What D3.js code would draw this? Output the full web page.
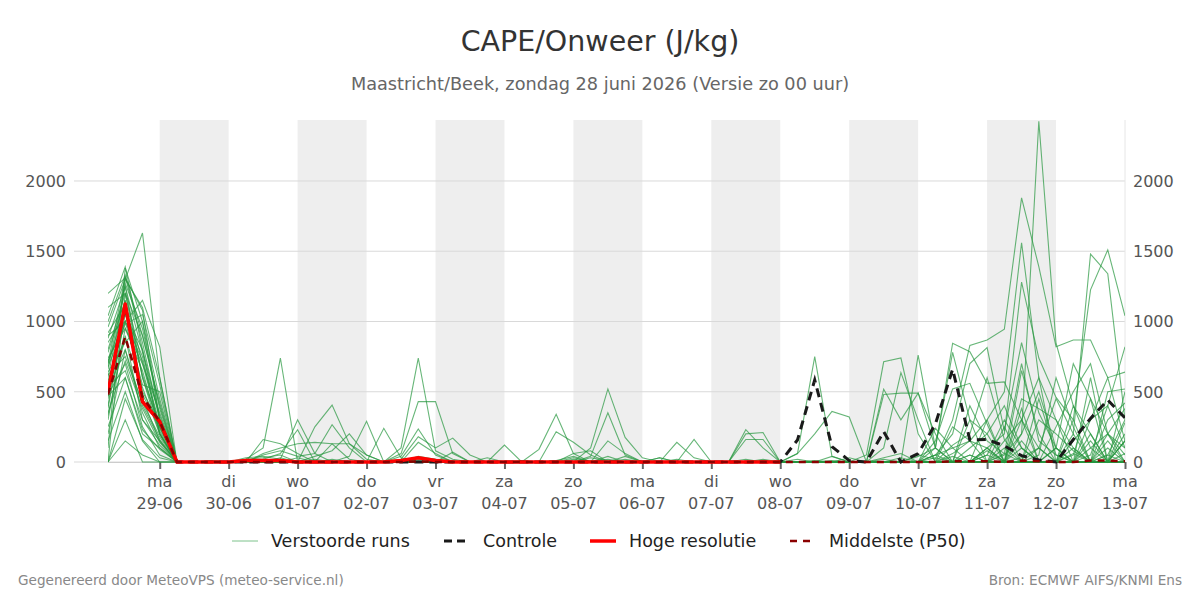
<!DOCTYPE html>
<html>
<head>
<meta charset="utf-8">
<script src="https://cdn.jsdelivr.net/npm/d3@7"></script>
<style>
body{margin:0;background:#fff;}
text{font-family:"DejaVu Sans",sans-serif;}
</style>
</head>
<body>
<svg id="chart" width="1200" height="600"></svg>
<script>
// 6-hourly values, first step 28-06 06:00
var startTime = new Date(2026, 5, 28, 6);
var stepHours = 6;
var dayNames = ["zo","ma","di","wo","do","vr","za"];
var yTicks = [0, 500, 1000, 1500, 2000];
var yMax = 2434;

// hoge resolutie (runs to 08-07 00:00)
var hires = [500,1125,430,287,0, 0,0,0,10,10, 10,0,0,0,0, 0,0,10,30,10, 0,0,0,0,0, 0,0,0,0,0, 0,0,0,0,0, 0,0,0,0,0];
// controle
var control = [500,1120,430,287,0, 0,0,0,0,0, 0,0,0,0,0, 0,0,0,0,0, 0,0,0,0,0, 0,0,0,0,0, 0,0,0,0,0, 0,0,0,0,0,
  157,584,110,10,0, 216,0,60,270,660, 157,160,115,45,15, 0,160,310,441,313];
// middelste (P50)
var median = [480,892,465,290,0, 0,0,0,0,0, 0,0,0,0,0, 0,0,0,5,0, 0,0,0,0,0, 0,0,0,0,0, 0,0,0,0,0, 0,0,0,0,0,
  0,0,0,0,0, 0,0,0,0,5, 5,5,0,10,5, 0,0,10,10,5];
// verstoorde runs
var runs = [
 [1200,1310,1080,300,0, 0,0,0,20,100, 740,0,20,0,0, 0,0,10,30,20, 0,0,0,0,0, 0,10,40,0,0, 0,0,0,20,0, 0,0,0,10,0, 20,0,10,0,0, 30,60,0,100,845, 785,560,570,300,100, 450,200,1480,1340,300],
 [1040,1390,800,200,0, 0,10,0,30,40, 20,300,60,0,0, 0,0,0,40,20, 10,0,0,0,0, 0,0,0,30,10, 0,0,0,0,0, 0,0,0,0,0, 0,10,0,0,0, 0,0,50,20,300, 830,868,945,1880,1390, 820,868,868,600,640],
 [960,1300,1630,600,0, 0,0,0,10,20, 60,230,0,0,0, 0,0,0,0,0, 0,0,0,0,10, 0,0,30,0,20, 0,0,0,0,0, 0,0,20,0,0, 0,0,0,0,0, 0,30,0,0,0, 0,0,50,200,2425, 845,400,100,0,150],
 [900,1000,1150,820,0, 0,0,0,20,30, 50,0,250,405,130, 20,0,0,0,0, 0,0,0,0,0, 0,0,0,0,40, 0,0,0,0,0, 0,0,0,0,0, 0,0,0,30,0, 0,0,0,50,100, 150,300,500,1560,600, 300,100,0,500,520],
 [800,1200,900,400,0, 0,0,0,0,50, 80,40,60,265,100, 0,0,0,20,10, 0,0,0,0,0, 0,0,0,10,0, 0,0,30,0,0, 0,0,0,0,0, 0,0,0,0,0, 0,0,0,0,0, 0,100,200,1280,740, 460,300,1225,1510,1040],
 [740,950,700,250,0, 0,0,0,0,10, 20,0,40,80,200, 50,0,0,10,0, 0,0,0,0,0, 0,0,20,0,0, 0,0,0,0,0, 0,0,0,0,0, 0,0,40,0,0, 0,0,0,50,200, 700,814,220,850,350, 100,700,450,200,380],
 [700,1100,450,150,0, 0,0,0,10,0, 30,0,0,0,40, 290,0,0,0,0, 0,0,0,0,0, 0,0,0,0,0, 0,0,0,0,0, 0,0,0,20,0, 0,0,0,0,0, 0,0,0,150,520, 560,270,0,650,200, 0,150,300,400,820],
 [640,850,1000,300,0, 0,0,0,0,0, 0,30,0,20,0, 0,240,30,0,0, 0,0,0,0,0, 0,0,0,0,0, 20,0,0,0,0, 0,0,0,0,0, 0,0,0,0,0, 0,0,40,100,780, 300,0,150,300,600, 0,0,200,0,280],
 [600,1250,600,200,0, 0,0,0,0,20, 0,0,0,0,0, 0,0,100,740,80, 20,0,0,0,0, 0,0,0,0,0, 0,0,0,0,0, 0,0,0,0,0, 0,0,0,0,0, 0,0,0,0,120, 200,600,160,0,300, 200,80,0,300,420],
 [520,800,350,100,0, 0,0,0,0,0, 0,0,0,0,0, 0,0,60,430,430, 60,0,0,0,0, 0,0,0,0,0, 0,0,0,0,0, 0,0,0,0,0, 0,0,0,0,0, 0,0,0,0,0, 100,200,400,100,0, 250,500,700,200,100],
 [480,700,250,50,0, 0,0,0,0,0, 0,0,0,0,0, 0,0,40,235,50, 0,0,0,0,0, 0,0,0,0,0, 0,0,0,0,0, 0,0,0,0,0, 0,0,0,0,0, 0,0,0,0,0, 0,0,0,450,380, 300,0,150,0,150],
 [400,1150,500,280,0, 0,0,0,0,0, 0,0,0,0,0, 0,0,20,180,100, 170,50,0,0,0, 0,0,0,0,0, 0,0,0,0,0, 0,0,0,0,0, 0,0,0,0,0, 0,0,0,0,60, 150,100,0,200,500, 100,0,300,600,150],
 [330,900,300,150,0, 0,0,0,0,0, 0,0,0,0,0, 0,0,0,140,60, 0,0,0,0,0, 0,0,0,0,0, 0,0,0,0,0, 0,0,0,0,0, 0,0,0,0,0, 0,0,0,0,0, 0,0,100,0,50, 600,250,0,100,0],
 [250,600,200,100,0, 0,0,0,0,0, 0,0,0,0,0, 0,0,0,0,0, 0,0,0,120,0, 0,0,0,0,0, 0,0,0,0,0, 0,0,0,0,0, 0,0,0,0,0, 0,0,0,0,0, 400,150,60,700,150, 50,0,100,200,50],
 [150,500,150,0,0, 0,0,0,0,0, 0,0,0,0,0, 0,0,0,0,0, 0,0,0,0,0, 90,340,60,0,0, 0,0,0,0,0, 0,0,0,0,0, 0,0,0,0,0, 0,0,0,240,100, 0,50,300,100,0, 0,400,200,0,0],
 [0,300,0,0,0, 0,0,0,0,0, 0,0,0,0,0, 0,0,0,0,0, 0,0,0,0,0, 0,215,140,50,0, 0,0,0,0,0, 0,0,0,0,0, 0,0,0,0,0, 0,0,0,30,0, 0,80,0,30,100, 0,60,0,0,150],
 [0,150,50,0,0, 0,0,0,0,0, 0,0,0,0,0, 0,0,0,0,0, 0,0,0,0,0, 0,0,0,100,520, 175,30,0,0,0, 0,0,0,0,0, 0,0,0,0,0, 0,0,0,0,40, 0,0,0,0,0, 100,0,0,50,0],
 [0,1200,700,350,0, 0,0,0,0,0, 0,0,0,0,0, 0,0,0,0,0, 0,0,0,0,0, 0,0,0,40,350, 50,0,0,0,0, 0,0,0,0,0, 0,0,0,0,0, 20,0,0,0,0, 0,0,0,0,0, 0,0,0,0,0],
 [100,1380,1000,450,0, 0,0,0,0,0, 0,0,0,0,0, 0,0,0,0,0, 0,0,0,0,0, 0,0,0,0,150, 60,0,0,0,0, 0,0,0,0,0, 0,0,0,0,0, 0,0,0,0,0, 50,0,0,0,0, 0,0,0,0,60],
 [700,1320,850,300,0, 0,0,0,0,0, 0,0,0,0,0, 0,0,0,0,0, 0,0,0,0,0, 0,0,0,0,0, 0,0,0,140,30, 0,0,0,0,0, 0,0,0,0,0, 0,0,0,0,0, 0,100,0,150,0, 0,50,450,0,200],
 [850,1050,750,200,0, 0,0,0,0,0, 0,0,0,0,0, 0,0,0,0,0, 0,0,0,0,0, 0,0,0,0,0, 0,0,0,0,160, 0,0,0,0,0, 0,0,0,0,0, 0,0,0,0,250, 150,0,0,0,100, 0,200,0,50,300],
 [1100,1200,600,250,0, 0,0,0,0,0, 0,0,0,0,0, 0,0,0,0,0, 0,0,0,0,0, 0,0,0,0,0, 0,0,0,0,0, 0,0,230,100,0, 0,0,0,0,0, 0,0,0,0,0, 50,0,0,380,0, 100,0,0,0,0],
 [560,1000,550,500,0, 0,0,0,0,0, 0,0,0,0,0, 0,0,0,0,0, 0,0,0,0,0, 0,0,0,0,0, 0,0,0,0,0, 0,0,200,210,0, 0,0,0,0,0, 0,0,0,0,0, 0,0,0,0,0, 0,0,50,400,100],
 [620,750,420,180,0, 0,0,0,0,0, 0,0,0,0,0, 0,0,0,0,0, 0,0,0,0,0, 0,0,0,0,0, 0,0,0,0,0, 0,0,160,160,0, 0,0,0,0,0, 0,0,0,50,0, 0,0,250,0,0, 0,0,0,0,0],
 [450,1300,1100,600,0, 0,0,0,0,160, 130,60,0,0,0, 0,0,0,0,0, 0,0,0,0,0, 0,0,0,0,0, 0,0,0,0,0, 0,0,0,0,0, 0,0,0,0,0, 0,0,0,0,0, 0,300,0,0,0, 0,100,0,0,500],
 [380,1050,800,330,0, 0,0,0,0,60, 100,130,140,130,20, 0,0,0,0,0, 0,0,0,0,0, 0,0,0,0,0, 0,0,0,0,0, 0,0,0,0,0, 0,0,0,0,0, 0,0,0,0,0, 0,0,0,0,0, 0,0,0,200,0],
 [300,950,650,220,0, 0,0,0,0,0, 0,0,0,130,130, 50,0,0,0,0, 0,0,0,0,0, 0,0,0,0,0, 0,0,0,0,0, 0,0,0,0,0, 0,0,0,0,0, 0,0,0,0,0, 0,0,0,0,450, 50,0,0,0,0],
 [780,1150,480,240,0, 0,0,0,0,0, 0,0,0,0,0, 0,0,0,0,0, 70,0,30,0,0, 0,0,0,0,0, 0,0,0,0,0, 0,0,0,0,0, 0,0,0,0,0, 0,0,0,0,0, 0,50,0,0,0, 0,0,600,0,0],
 [200,800,400,160,0, 0,0,0,0,0, 0,0,0,0,0, 0,0,0,0,0, 0,0,0,0,0, 0,0,60,80,0, 0,0,0,0,0, 0,0,0,0,0, 0,0,0,0,0, 0,0,0,0,0, 0,0,0,0,0, 0,0,0,0,0],
 [660,1270,950,380,0, 0,0,0,0,0, 0,0,0,0,0, 0,0,0,0,0, 0,0,0,0,0, 0,0,0,0,0, 40,0,30,0,0, 0,0,0,0,0, 0,0,0,0,0, 0,0,0,0,0, 0,0,60,0,0, 0,0,0,150,0],
 [920,1120,620,260,0, 0,0,0,0,0, 0,0,0,0,0, 0,0,0,0,0, 0,0,0,0,0, 0,0,0,0,0, 0,0,0,0,0, 0,0,0,0,0, 60,750,40,0,0, 0,0,0,0,0, 0,0,0,0,0, 0,0,0,0,0],
 [540,650,300,120,0, 0,0,0,0,0, 0,0,0,0,0, 0,0,0,0,0, 0,0,0,0,0, 0,0,0,0,0, 0,0,0,0,0, 0,0,0,0,0, 60,200,360,320,0, 0,0,0,0,0, 0,0,0,0,0, 0,0,0,0,0],
 [0,450,160,30,0, 0,0,0,0,0, 0,0,0,0,0, 0,0,0,0,0, 0,0,0,0,0, 0,0,0,0,0, 0,0,0,0,0, 0,0,0,0,0, 0,0,0,0,50, 713,740,200,0,0, 0,0,0,300,0, 0,0,0,0,0],
 [720,1000,720,270,0, 0,0,0,0,0, 0,0,0,0,0, 0,0,0,0,0, 0,0,0,0,0, 0,0,0,0,0, 0,0,0,0,0, 0,0,0,0,0, 0,0,0,0,0, 518,300,490,100,0, 0,0,0,0,0, 0,300,0,0,0],
 [580,880,530,200,0, 0,0,0,0,0, 0,0,0,0,0, 0,0,0,0,0, 0,0,0,0,0, 0,0,0,0,0, 0,0,0,0,0, 0,0,0,0,0, 0,0,0,0,0, 100,636,300,0,0, 0,0,0,0,0, 0,0,0,0,0],
 [1000,1330,900,420,0, 0,0,0,0,0, 0,0,0,0,0, 0,0,0,0,0, 0,0,0,0,0, 0,0,0,0,0, 0,0,0,0,0, 0,0,0,0,0, 0,0,0,0,0, 480,490,490,200,0, 0,0,0,0,0, 0,0,0,0,0],
 [470,600,230,90,0, 0,0,0,0,0, 0,0,0,0,0, 0,0,0,0,0, 0,0,0,0,0, 0,0,0,0,0, 0,0,0,0,0, 0,0,0,0,0, 0,0,0,0,0, 0,0,761,100,0, 0,0,0,0,0, 0,0,0,0,0],
 [880,1250,780,310,0, 0,0,0,0,0, 0,0,0,0,0, 0,0,0,0,0, 0,0,0,0,0, 0,0,0,0,0, 0,0,0,0,0, 0,0,0,0,0, 0,0,0,0,0, 0,0,0,0,0, 300,200,0,100,0, 0,0,0,0,0],
 [350,720,380,140,0, 0,0,0,0,0, 0,0,0,0,0, 0,0,0,0,0, 0,0,0,0,0, 0,0,0,0,0, 0,0,0,0,0, 0,0,0,0,0, 0,0,0,0,0, 0,0,0,0,0, 0,0,0,0,0, 0,0,0,0,0],
 [680,980,1050,550,0, 0,0,0,0,0, 0,0,0,0,0, 0,0,0,0,0, 0,0,0,0,0, 0,0,0,0,0, 0,0,0,0,0, 0,0,0,0,0, 0,0,0,0,0, 0,0,0,0,0, 0,0,0,0,0, 0,0,0,0,0]
];

var svg = d3.select("#chart");
var plotLeft = 108, plotRight = 1125, plotTop = 120, plotBottom = 462;

var timeAt = function(i){
    return new Date(startTime.getTime() + i * stepHours * 3600 * 1000);
}
var endTime = timeAt(runs[0].length - 1);

var x = d3.scaleTime().domain([startTime, endTime]).range([plotLeft, plotRight]);
var y = d3.scaleLinear().domain([0, yMax]).range([plotBottom, plotTop]);

var days = d3.timeDay.range(new Date(2026, 5, 29), new Date(2026, 6, 13, 1));

//grey bands, every other day
var bands = days.filter(function(d, i){return i % 2 == 0 && i < days.length - 1});
svg.append("g").selectAll("rect").data(bands).enter().append("rect")
    .attr("x", function(d){return x(d)})
    .attr("y", plotTop)
    .attr("width", function(d){return x(d3.timeDay.offset(d, 1)) - x(d)})
    .attr("height", plotBottom - plotTop)
    .attr("fill", "#eeeeee");

//grid lines
svg.append("g").selectAll("line").data(yTicks).enter().append("line")
    .attr("x1", 74).attr("x2", plotRight)
    .attr("y1", function(d){return y(d)}).attr("y2", function(d){return y(d)})
    .attr("stroke", "#d9d9d9").attr("stroke-width", 1);
svg.append("line")
    .attr("x1", plotRight).attr("x2", plotRight).attr("y1", plotTop).attr("y2", plotBottom)
    .attr("stroke", "#e6e6e6");

//y labels both sides
svg.append("g").selectAll("text").data(yTicks).enter().append("text")
    .attr("x", 66).attr("y", function(d){return y(d) + 6})
    .attr("text-anchor", "end").attr("font-size", 16).attr("fill", "#555")
    .text(function(d){return d});
svg.append("g").selectAll("text").data(yTicks).enter().append("text")
    .attr("x", 1133).attr("y", function(d){return y(d) + 6})
    .attr("text-anchor", "start").attr("font-size", 16).attr("fill", "#555")
    .text(function(d){return d});

//x axis
var xAxis = svg.append("g").attr("transform", "translate(0," + plotBottom + ")")
    .call(d3.axisBottom(x).tickValues(days).tickSize(7).tickSizeOuter(0).tickFormat(""));
xAxis.select(".domain").attr("stroke", "#cccccc");
xAxis.selectAll(".tick line").attr("stroke", "#666").attr("stroke-width", 2);
var dayLabels = svg.append("g").selectAll("text").data(days).enter().append("text")
    .attr("text-anchor", "middle").attr("font-size", 16).attr("fill", "#555");
dayLabels.append("tspan")
    .attr("x", function(d){return x(d)}).attr("y", 487)
    .text(function(d){return dayNames[d.getDay()]});
dayLabels.append("tspan")
    .attr("x", function(d){return x(d)}).attr("y", 509)
    .text(function(d){return d3.timeFormat("%d-%m")(d)});

//lines
svg.append("clipPath").attr("id", "plotClip").append("rect")
    .attr("x", plotLeft).attr("y", plotTop - 2)
    .attr("width", plotRight - plotLeft).attr("height", plotBottom - plotTop + 4);
var plot = svg.append("g").attr("clip-path", "url(#plotClip)");

var line = d3.line()
    .x(function(d, i){return x(timeAt(i))})
    .y(function(d){return y(d)});

plot.selectAll(".run").data(runs).enter().append("path")
    .attr("class", "run")
    .attr("d", line)
    .attr("fill", "none")
    .attr("stroke", "#26973f")
    .attr("stroke-opacity", 0.7)
    .attr("stroke-width", 1.1);

plot.append("path").attr("d", line(control))
    .attr("fill", "none").attr("stroke", "#1a1a1a")
    .attr("stroke-width", 3).attr("stroke-dasharray", "9,6");
plot.append("path").attr("d", line(hires))
    .attr("fill", "none").attr("stroke", "#ff0000")
    .attr("stroke-width", 3.5).attr("stroke-linejoin", "round");
plot.append("path").attr("d", line(median))
    .attr("fill", "none").attr("stroke", "#8b0000")
    .attr("stroke-width", 2.5).attr("stroke-dasharray", "7,6");

//titles
svg.append("text").attr("x", 600).attr("y", 51).attr("text-anchor", "middle")
    .attr("font-size", 28.5).attr("fill", "#333").text("CAPE/Onweer (J/kg)");
svg.append("text").attr("x", 600).attr("y", 90).attr("text-anchor", "middle")
    .attr("font-size", 17.7).attr("fill", "#666")
    .text("Maastricht/Beek, zondag 28 juni 2026 (Versie zo 00 uur)");

//legend
var legendItems = [
    {label: "Verstoorde runs", x: 232, color: "#7cc28b", width: 1, dash: null},
    {label: "Controle", x: 444, color: "#1a1a1a", width: 3, dash: "8,5"},
    {label: "Hoge resolutie", x: 590, color: "#ff0000", width: 3.5, dash: null},
    {label: "Middelste (P50)", x: 790, color: "#8b0000", width: 2.5, dash: "7,6"}
];
var leg = svg.append("g").selectAll("g").data(legendItems).enter().append("g");
leg.append("line")
    .attr("x1", function(d){return d.x}).attr("x2", function(d){return d.x + 26})
    .attr("y1", 541).attr("y2", 541)
    .attr("stroke", function(d){return d.color})
    .attr("stroke-width", function(d){return d.width})
    .attr("stroke-dasharray", function(d){return d.dash});
leg.append("text")
    .attr("x", function(d){return d.x + 39}).attr("y", 547)
    .attr("font-size", 17.5).attr("fill", "#222")
    .text(function(d){return d.label});

//footer
svg.append("text").attr("x", 18).attr("y", 585).attr("font-size", 13.6).attr("fill", "#888")
    .text("Gegenereerd door MeteoVPS (meteo-service.nl)");
svg.append("text").attr("x", 1182).attr("y", 585).attr("text-anchor", "end")
    .attr("font-size", 13.6).attr("fill", "#888")
    .text("Bron: ECMWF AIFS/KNMI Ens");
</script>
</body>
</html>
